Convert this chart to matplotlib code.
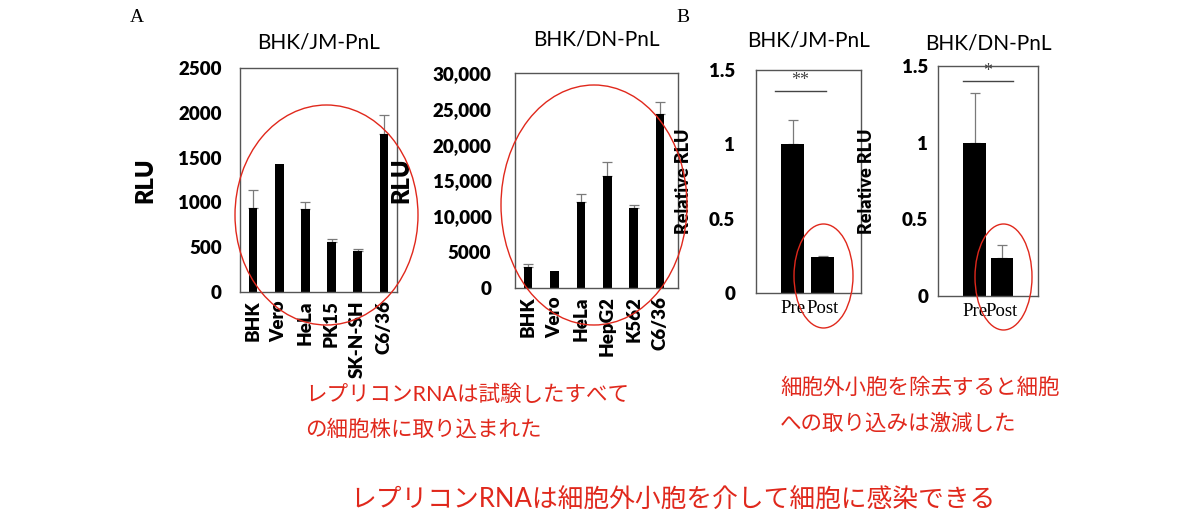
import matplotlib
matplotlib.use('Agg')
import matplotlib.pyplot as plt
from matplotlib.patches import Ellipse
from matplotlib.transforms import ScaledTranslation

plt.rcParams['font.family'] = ['Lato', 'Noto Sans CJK JP', 'DejaVu Sans']

# パネルA: 細胞株ごとの取り込み
cells_jm = ['BHK', 'Vero', 'HeLa', 'PK15', 'SK-N-SH', 'C6/36']
rlu_jm = [940, 1430, 930, 555, 460, 1765]
err_jm = [195, 0, 75, 40, 22, 210]

cells_dn = ['BHK', 'Vero', 'HeLa', 'HepG2', 'K562', 'C6/36']
rlu_dn = [2900, 2380, 12040, 15630, 11200, 24300]
err_dn = [500, 0, 1030, 2000, 380, 1640]
dn_ticks = [0, 5000, 10000, 15000, 20000, 25000, 30000]
dn_tick_labels = ['0', '5000', '10,000', '15,000', '20,000', '25,000', '30,000']

# パネルB: 細胞外小胞の除去前後
groups = ['Pre', 'Post']
rel_jm = [1.0, 0.242]
rel_jm_err = [0.165, 0.005]
rel_dn = [0.995, 0.25]
rel_dn_err = [0.33, 0.08]

W, H = 1200, 522
BOLD = 'heavy'
fig = plt.figure(figsize=(W / 100, H / 100), dpi=100)


def add_box(left, right, top, bottom):
    return fig.add_axes([left / W, 1 - bottom / H, (right - left) / W, (bottom - top) / H])


def style(ax, pad):
    for s in ax.spines.values():
        s.set_color('#555555')
        s.set_linewidth(1.0)
    ax.tick_params(length=0)
    ax.tick_params(axis='y', pad=pad)
    for lab in ax.get_yticklabels():
        lab.set_fontweight(BOLD)
        lab.set_fontsize(13.5)


def bars(ax, vals, errs, width):
    x = list(range(len(vals)))
    ax.bar(x, vals, width=width, color='black', zorder=2)
    for xi, v, e in zip(x, vals, errs):
        if e > 0:
            ax.errorbar(xi, v, yerr=[[0], [e]], ecolor='#7a7a7a', elinewidth=0.9,
                        capsize=3.5, capthick=0.9, fmt='none', zorder=1)
    return x


def pre_post_labels(ax):
    ax.set_xticks([0, 1])
    ax.set_xticklabels(groups, fontsize=13.5, family='Liberation Serif')
    ax.tick_params(axis='x', pad=5)
    # Pre と Post の間に少し隙間を空ける
    for lab, dx in zip(ax.get_xticklabels(), [-4, 4]):
        lab.set_transform(lab.get_transform() + ScaledTranslation(dx / 100, 0, fig.dpi_scale_trans))


# A左
ax1 = add_box(240, 397, 68, 292)
x = bars(ax1, rlu_jm, err_jm, 0.33)
ax1.set_xlim(-0.5, 5.5)
ax1.set_ylim(0, 2500)
ax1.set_yticks([0, 500, 1000, 1500, 2000, 2500])
ax1.set_xticks(x)
ax1.set_xticklabels(cells_jm, rotation=90, fontsize=13.5, fontweight=BOLD)
ax1.tick_params(axis='x', pad=6)
style(ax1, 13)
ax1.set_title('BHK/JM-PnL', fontsize=15, pad=14)
ax1.set_ylabel('RLU', fontsize=17, fontweight=BOLD)
ax1.yaxis.set_label_coords(-0.53, 0.5)

# A右
ax2 = add_box(515, 678, 73, 288)
x = bars(ax2, rlu_dn, err_dn, 0.32)
ax2.set_xlim(-0.5, 5.68)
ax2.set_ylim(0, 30000)
ax2.set_yticks(dn_ticks)
ax2.set_yticklabels(dn_tick_labels)
ax2.set_xticks(x)
ax2.set_xticklabels(cells_dn, rotation=90, fontsize=13.5, fontweight=BOLD)
ax2.tick_params(axis='x', pad=6)
style(ax2, 17)
ax2.set_title('BHK/DN-PnL', fontsize=15, pad=20)
ax2.set_ylabel('RLU', fontsize=17, fontweight=BOLD)
ax2.yaxis.set_label_coords(-0.63, 0.5)

# B左
ax3 = add_box(756, 861, 70, 293)
bars(ax3, rel_jm, rel_jm_err, 0.77)
ax3.set_xlim(-1.23, 2.27)
ax3.set_ylim(0, 1.5)
ax3.set_yticks([0, 0.5, 1, 1.5])
ax3.set_yticklabels(['0', '0.5', '1', '1.5'])
pre_post_labels(ax3)
style(ax3, 15)
ax3.set_title('BHK/JM-PnL', fontsize=15, pad=17)
ax3.set_ylabel('Relative RLU', fontsize=13, fontweight=BOLD)
ax3.yaxis.set_label_coords(-0.61, 0.5)
ax3.plot([-0.6, 1.1], [1.36, 1.36], color='#444444', lw=1)
ax3.text(0.25, 1.37, '**', ha='center', va='bottom', fontsize=13,
         color='#444444', family='Liberation Serif')

# B右
ax4 = add_box(938, 1038, 66, 296)
bars(ax4, rel_dn, rel_dn_err, 0.82)
ax4.set_xlim(-1.33, 2.31)
ax4.set_ylim(0, 1.5)
ax4.set_yticks([0, 0.5, 1, 1.5])
ax4.set_yticklabels(['0', '0.5', '1', '1.5'])
pre_post_labels(ax4)
style(ax4, 7)
ax4.set_title('BHK/DN-PnL', fontsize=15, pad=12)
ax4.set_ylabel('Relative RLU', fontsize=13, fontweight=BOLD)
ax4.yaxis.set_label_coords(-0.63, 0.5)
ax4.plot([-0.42, 1.4], [1.40, 1.40], color='#444444', lw=1)
ax4.text(0.49, 1.41, '*', ha='center', va='bottom', fontsize=13,
         color='#444444', family='Liberation Serif')

# 注釈レイヤー（ピクセル座標）
ov = fig.add_axes([0, 0, 1, 1], zorder=10)
ov.set_xlim(0, W)
ov.set_ylim(H, 0)
ov.axis('off')
ov.patch.set_alpha(0)

red = '#e0281c'
for cx, cy, w, h in [(326.5, 215, 183, 220), (594, 205, 186, 240),
                     (823.5, 276, 59, 104), (1003.5, 277, 57, 106)]:
    ov.add_patch(Ellipse((cx, cy), w, h, fill=False, ec=red, lw=1.0))

ov.text(137, 17, 'A', fontsize=14, family='Liberation Serif', ha='center', va='center')
ov.text(683, 17, 'B', fontsize=14, family='Liberation Serif', ha='center', va='center')

ov.text(305, 395, 'レプリコンRNAは試験したすべて', color=red, fontsize=15.5, va='center')
ov.text(305, 430, 'の細胞株に取り込まれた', color=red, fontsize=15.5, va='center')
ov.text(780, 388, '細胞外小胞を除去すると細胞', color=red, fontsize=15.5, va='center')
ov.text(780, 423, 'への取り込みは激減した', color=red, fontsize=15.5, va='center')
ov.text(673, 500, 'レプリコンRNAは細胞外小胞を介して細胞に感染できる', color=red,
        fontsize=18.5, ha='center', va='center')

fig.savefig('out.png', dpi=100)
